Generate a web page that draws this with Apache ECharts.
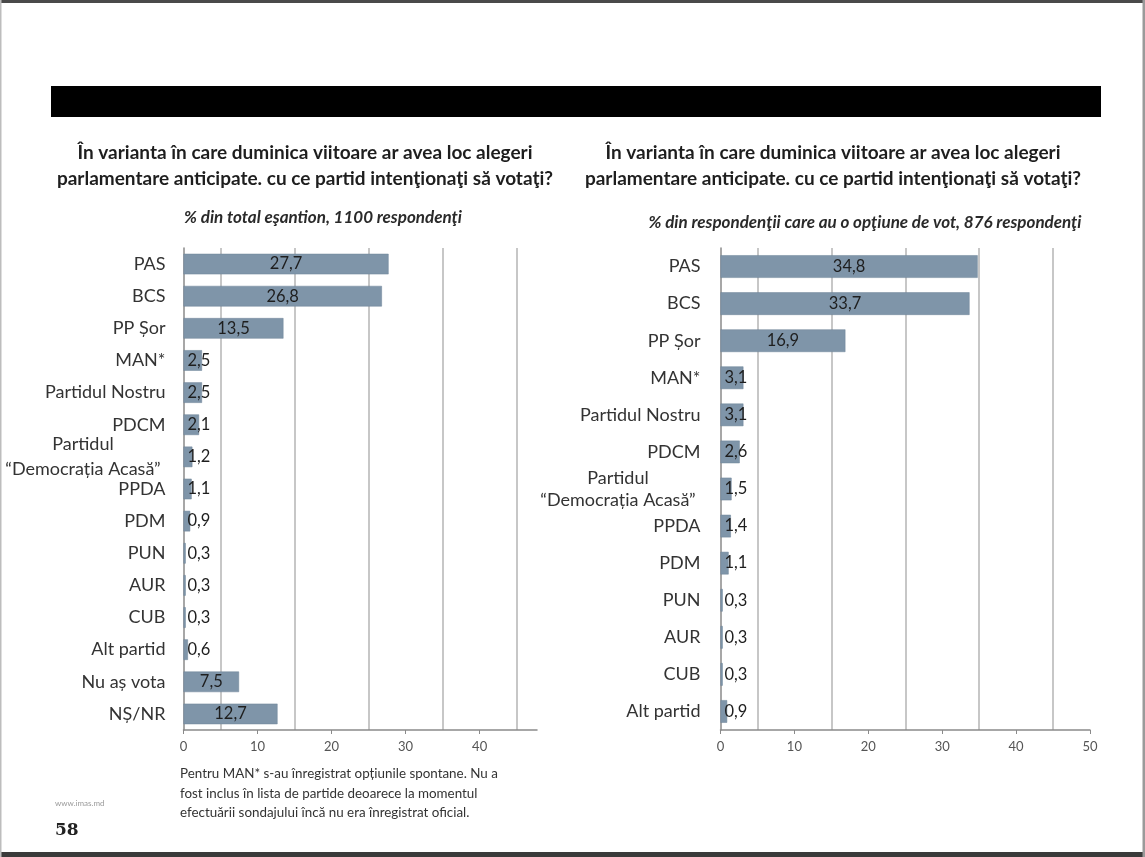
<!DOCTYPE html>
<html>
<head>
<meta charset="utf-8">
<script src="https://cdn.jsdelivr.net/npm/echarts@6/dist/echarts.min.js"></script>
<style>
html,body{margin:0;padding:0;background:#fff;}
#chart{width:1145px;height:857px;}
</style>
</head>
<body>
<div id="chart"></div>
<script>
// ---- data ----
const leftCategories = ['PAS','BCS','PP Șor','MAN*','Partidul Nostru','PDCM','Partidul\n“Democrația Acasă”','PPDA','PDM','PUN','AUR','CUB','Alt partid','Nu aș vota','NȘ/NR'];
const leftValues = [27.7,26.8,13.5,2.5,2.5,2.1,1.2,1.1,0.9,0.3,0.3,0.3,0.6,7.5,12.7];
const rightCategories = ['PAS','BCS','PP Șor','MAN*','Partidul Nostru','PDCM','Partidul\n“Democrația Acasă”','PPDA','PDM','PUN','AUR','CUB','Alt partid'];
const rightValues = [34.8,33.7,16.9,3.1,3.1,2.6,1.5,1.4,1.1,0.3,0.3,0.3,0.9];
const leftTickLabels = [0,10,20,30,40];
const rightTickLabels = [0,10,20,30,40,50];
const leftMax = 47.75;
const rightMax = 50;
const gridStep = 5;

const titleText = 'În varianta în care duminica viitoare ar avea loc alegeri\nparlamentare anticipate. cu ce partid intenţionaţi să votaţi?';
const leftSubtitle = '% din total eşantion, 1100 respondenţi';
const rightSubtitle = '% din respondenţii care au o opţiune de vot, 876 respondenţi';
const footnote = 'Pentru MAN* s-au înregistrat opțiunile spontane. Nu a\nfost inclus în lista de partide deoarece la momentul\nefectuării sondajului încă nu era înregistrat oficial.';

const FONT = 'Lato, "Liberation Sans", sans-serif';
const BAR = '#7f95a9';

function fmt(v){ return String(v).replace('.', ','); }

function catAxis(cats, gridIndex, lh, margin){
  return {
    type:'category', gridIndex, data:cats, inverse:true,
    axisLine:{show:true,lineStyle:{color:'#8a8a8a',width:1.5}},
    axisTick:{show:false},
    axisLabel:{
      margin:margin, color:'#333', fontFamily:FONT, fontSize:18,
      formatter:function(v){
        if(v.indexOf('\n')>=0){
          return v.split('\n').map(s=>'{c|'+s+'}').join('\n');
        }
        return v;
      },
      rich:{c:{width:165,align:'center',fontFamily:FONT,fontSize:18,color:'#333',lineHeight:lh}}
    }
  };
}
// axis carrying line, ticks and labels
function valAxis(gridIndex, max, ticks){
  return {
    type:'value', gridIndex, min:0, max:max, interval:10,
    axisLine:{show:true,lineStyle:{color:'#8a8a8a',width:1.5}},
    axisTick:{show:true,length:4,customValues:ticks,lineStyle:{color:'#8a8a8a'}},
    axisLabel:{show:true,customValues:ticks,color:'#555',fontFamily:FONT,fontSize:13,margin:10,
      formatter:function(v){ return ticks.indexOf(v)>=0 ? String(v) : ''; }},
    splitLine:{show:false}
  };
}
// axis carrying only the vertical gridlines (every other 5-step line)
function gridAxis(gridIndex, max){
  return {
    type:'value', gridIndex, min:0, max:max, interval:gridStep, position:'bottom',
    axisLine:{show:false}, axisTick:{show:false}, axisLabel:{show:false},
    splitLine:{show:true,lineStyle:{color:['rgba(0,0,0,0)','#b5b5b5'],width:1.5}}
  };
}
function barSeries(values, idx, bw){
  return {
    type:'bar', xAxisIndex:idx, yAxisIndex:idx, barWidth:bw,
    data: values.map(v=>({
      value:v,
      label:{position: v>=5 ? 'inside' : 'insideLeft', distance:4}
    })),
    itemStyle:{color:BAR,borderColor:'#6f8498',borderWidth:0.5},
    label:{show:true,color:'#1e1e1e',fontFamily:FONT,fontSize:16.5,formatter:p=>fmt(p.value)},
    silent:true, animation:false, z:3
  };
}

const chart = echarts.init(document.getElementById('chart'), null, {renderer:'canvas'});
chart.setOption({
  backgroundColor:'#fff',
  animation:false,
  grid:[
    {left:183.5, top:248, width:353.5, height:482, containLabel:false, outerBoundsMode:'none'},
    {left:720.5, top:248, width:369.5, height:482, containLabel:false, outerBoundsMode:'none'}
  ],
  xAxis:[ valAxis(0,leftMax,leftTickLabels), valAxis(1,rightMax,rightTickLabels), gridAxis(0,leftMax), gridAxis(1,rightMax) ],
  yAxis:[ catAxis(leftCategories,0,25,18), catAxis(rightCategories,1,22,20) ],
  series:[ barSeries(leftValues,0,'64%'), barSeries(rightValues,1,'61%') ],
  graphic:[
    {type:'rect',shape:{x:0,y:0,width:1145,height:3},style:{fill:'#4a4a4a'},silent:true},
    {type:'rect',shape:{x:0,y:852,width:1145,height:5},style:{fill:'#3a3a3a'},silent:true},
    {type:'rect',shape:{x:0,y:0,width:1.5,height:857},style:{fill:'#bdbdbd'},silent:true},
    {type:'rect',shape:{x:1142.5,y:0,width:2.5,height:857},style:{fill:'#9a9a9a'},silent:true},
    {type:'rect',shape:{x:51,y:86,width:1050,height:31},style:{fill:'#000'},silent:true},
    {type:'text',x:305,y:166,style:{text:titleText,fill:'#1e1e1e',font:'bold 19px '+FONT,textAlign:'center',textVerticalAlign:'middle',lineHeight:26}},
    {type:'text',x:833,y:166,style:{text:titleText,fill:'#1e1e1e',font:'bold 19px '+FONT,textAlign:'center',textVerticalAlign:'middle',lineHeight:26}},
    {type:'text',x:323,y:218,style:{text:leftSubtitle,fill:'#2a2a2a',font:'italic bold 17px '+FONT,textAlign:'center',textVerticalAlign:'middle'}},
    {type:'text',x:865,y:223,style:{text:rightSubtitle,fill:'#2a2a2a',font:'italic bold 17px '+FONT,textAlign:'center',textVerticalAlign:'middle'}},
    {type:'text',x:180,y:764,style:{text:footnote,fill:'#333',font:'13.4px '+FONT,textAlign:'left',textVerticalAlign:'top',lineHeight:19.5}},
    {type:'text',x:55,y:803,style:{text:'www.imas.md',fill:'#9a9a9a',font:'8px '+FONT,textAlign:'left',textVerticalAlign:'middle'}},
    {type:'text',x:55,y:831,style:{text:'58',fill:'#222',font:'bold 17px "DejaVu Serif", serif',textAlign:'left',textVerticalAlign:'middle'}}
  ]
});
</script>
</body>
</html>
